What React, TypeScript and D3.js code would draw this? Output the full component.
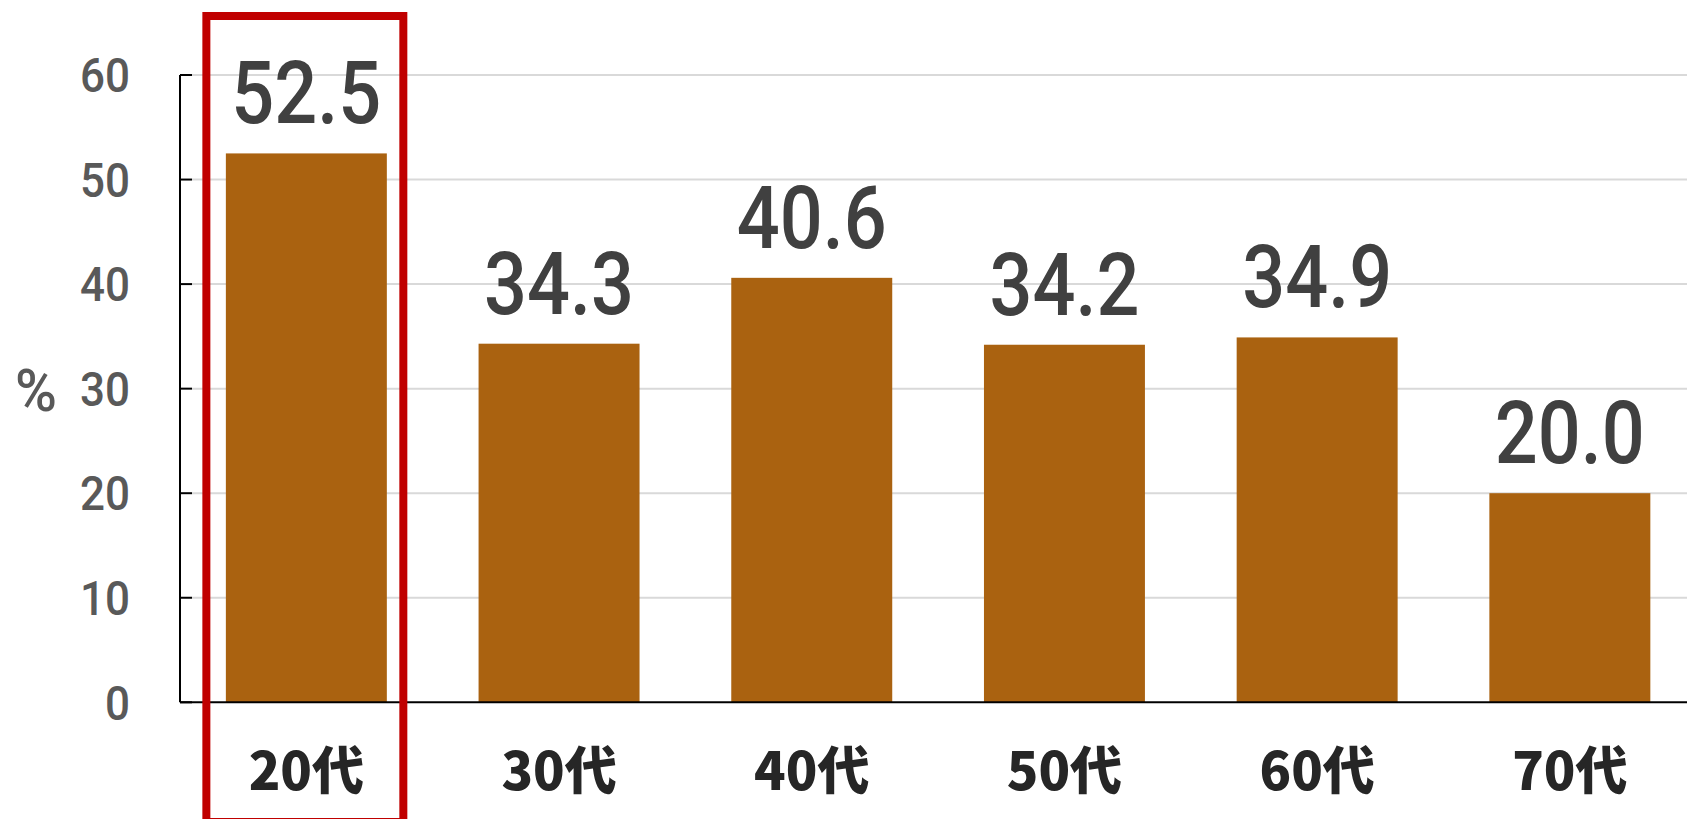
import React from 'react';
import { scaleBand, scaleLinear } from 'd3';

const categories = ['20代', '30代', '40代', '50代', '60代', '70代'];
const values = [52.5, 34.3, 40.6, 34.2, 34.9, 20.0];
const yTicks = [0, 10, 20, 30, 40, 50, 60];
const highlighted = '20代';

function App() {
  const width = 1687;
  const height = 819;
  const left = 180;
  const top = 75;
  const bottom = 702.3;
  const step = 252.7;

  const x = scaleBand<string>()
    .domain(categories)
    .range([left, left + step * categories.length])
    .paddingInner(0.363)
    .paddingOuter(0.1815);

  const y = scaleLinear().domain([0, 60]).range([bottom, top]);

  const hx = x(highlighted)!;

  return (
    <div style={{ position: 'absolute', left: 0, top: 0 }}>
      <svg width={width} height={height} style={{ display: 'block', background: '#fff' }}>
        {/* grid */}
        {yTicks.filter(t => t > 0).map(t => (
          <line key={'g' + t} x1={192} x2={width} y1={y(t)} y2={y(t)} stroke="#d9d9d9" strokeWidth={2} />
        ))}

        {/* bars */}
        {categories.map((c, i) => (
          <rect key={c} x={x(c)} y={y(values[i])} width={x.bandwidth()} height={bottom - y(values[i])} fill="#aa6210" />
        ))}

        {/* axes */}
        <line x1={left} x2={left} y1={top} y2={bottom} stroke="#000" strokeWidth={2} />
        <line x1={left} x2={width} y1={bottom} y2={bottom} stroke="#000" strokeWidth={2} />
        {yTicks.map(t => (
          <g key={'t' + t}>
            <line x1={left} x2={192} y1={y(t)} y2={y(t)} stroke="#000" strokeWidth={2} />
            <text x={130} y={y(t)} dy="0.36em" textAnchor="end" fontFamily="Roboto" fontWeight={500}
              fontSize={48} fill="#595959" textLength={String(t).length * 25} lengthAdjust="spacingAndGlyphs">
              {t}
            </text>
          </g>
        ))}
        <text x={36} y={389} dy="0.36em" textAnchor="middle" fontFamily="Roboto" fontWeight={500} fontSize={60}
          fill="#595959" textLength={42} lengthAdjust="spacingAndGlyphs">%</text>

        {/* value labels */}
        {categories.map((c, i) => (
          <text key={'v' + c} x={x(c)! + x.bandwidth() / 2} y={y(values[i]) - 30} textAnchor="middle"
            fontFamily="Roboto" fontWeight={500} fontSize={87} fill="#404040"
            textLength={150} lengthAdjust="spacingAndGlyphs">
            {values[i].toFixed(1)}
          </text>
        ))}

        {/* category labels */}
        {categories.map(c => (
          <text key={'c' + c} x={x(c)! + x.bandwidth() / 2} y={767} dominantBaseline="central" textAnchor="middle"
            fontFamily="'Noto Sans CJK JP'" fontWeight={900} fontSize={52} fill="#262626">
            {c}
          </text>
        ))}

        {/* highlight box */}
        <rect x={hx - 19.5} y={16} width={x.bandwidth() + 36} height={806} fill="none" stroke="#c00000" strokeWidth={8} />
      </svg>
    </div>
  );
}

export default App;
